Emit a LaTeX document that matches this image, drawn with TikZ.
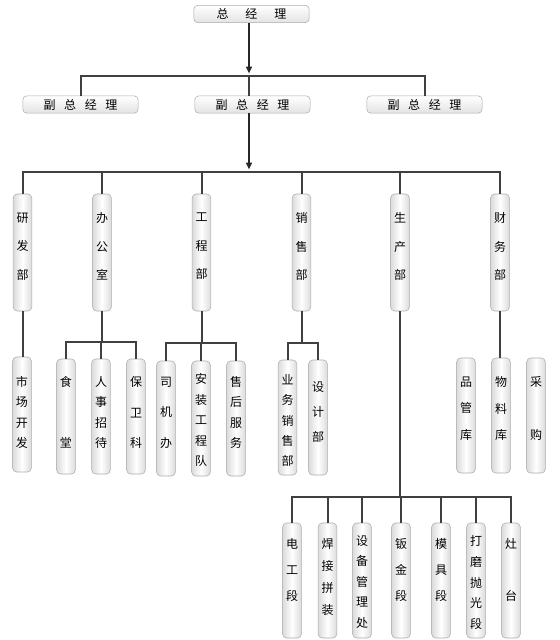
\documentclass[tikz,border=0pt]{standalone}
\usepackage{fontspec}
\newfontfamily\cjk{Noto Sans CJK SC}
\usetikzlibrary{arrows.meta}
\begin{document}
\begin{tikzpicture}[x=0.75pt,y=-0.75pt,
  hbox/.style={draw=gray!65, rounded corners=3pt, top color=white, bottom color=gray!22,
    minimum width=86.5pt, minimum height=13pt, inner sep=0pt, font=\cjk\fontsize{9pt}{10pt}\selectfont},
  vbox/.style={draw=gray!65, rounded corners=3pt, left color=gray!28, right color=gray!28, middle color=white,
    minimum width=14pt, minimum height=#1, inner sep=0pt},
  vbox/.default=86.25pt,
  vl/.style={font=\cjk\fontsize{9pt}{#1}\selectfont, align=center, inner sep=0pt},
  bar/.style={draw=black!75, line width=1.5pt},
  arr/.style={draw=black!85, line width=0.8pt, -{Triangle[length=5pt,width=4.5pt]}, shorten >=2pt},
]
\fill[white] (0,0) rectangle (560,640);
\useasboundingbox (0,0) rectangle (560,640);

% top level
\node[hbox] (zjl) at (251.5,14) {总\hspace{12.75pt}经\hspace{12.75pt}理};
\node[hbox] (f1) at (80.5,104.5) {副\hspace{6.4pt}总\hspace{6.4pt}经\hspace{6.4pt}理};
\node[hbox] (f2) at (252.5,104.5) {副\hspace{6.4pt}总\hspace{6.4pt}经\hspace{6.4pt}理};
\node[hbox] (f3) at (424.5,104.5) {副\hspace{6.4pt}总\hspace{6.4pt}经\hspace{6.4pt}理};

\coordinate (j1) at (249,76);
\draw[arr] (zjl.south -| j1) -- (j1);
\draw[bar] (f1.north) -- (f1.north |- j1) -- (f3.north |- j1) -- (f3.north);
\draw[bar] (j1) -- (f2.north -| j1);

% departments
\foreach \n/\x in {d1/22.5,d2/102,d3/201.5,d4/301.5,d5/400,d6/500}
  \node[vbox=87.75pt] (\n) at (\x,252.5) {};
\node[vl=21.4pt] (d1t) at (22.5,246.5) {研\\发\\部};
\node[vl=21.4pt] (d2t) at (102,246.5) {办\\公\\室};
\node[vl=21.4pt] (d3t) at (201.5,246.5) {工\\程\\部};
\node[vl=21.4pt] (d4t) at (301.5,246.5) {销\\售\\部};
\node[vl=21.4pt] (d5t) at (400,246.5) {生\\产\\部};
\node[vl=21.4pt] (d6t) at (500,246.5) {财\\务\\部};

\coordinate (j2) at (249,172);
\draw[arr] (f2.south -| j2) -- (j2);
\draw[bar] (d1.north) -- (d1.north |- j2) -- (d6.north |- j2) -- (d6.north);
\foreach \n in {d2,d3,d4,d5}
  \draw[bar] (\n.north |- j2) -- (\n.north);

% row 3 boxes
\node[vbox] (s1) at (22,414.5) {};
\node[vbox] (b1) at (66,416.5) {};
\node[vbox] (b2) at (101,416.5) {};
\node[vbox] (b3) at (136,416.5) {};
\node[vbox] (c1) at (166,418.5) {};
\node[vbox] (c2) at (201,418.5) {};
\node[vbox] (c3) at (236,418.5) {};
\node[vbox] (e1) at (287.5,417.5) {};
\node[vbox] (e2) at (318,417.5) {};
\node[vbox] (g1) at (466,415.5) {};
\node[vbox] (g2) at (501,415.5) {};
\node[vbox] (g3) at (536,415.5) {};

\node[vl=15.2pt] (s1t) at (22,412.5) {市\\场\\开\\发};
\node[vl=45.75pt] (b1t) at (66,412.5) {食\\堂};
\node[vl=15.2pt] (b2t) at (101,412.5) {人\\事\\招\\待};
\node[vl=22.9pt] (b3t) at (136,412.5) {保\\卫\\科};
\node[vl=22.9pt] (c1t) at (166,412.5) {司\\机\\办};
\node[vl=15.4pt] (c2t) at (201,420) {安\\装\\工\\程\\队};
\node[vl=15.2pt] (c3t) at (236,412.5) {售\\后\\服\\务};
\node[vl=15.2pt] (e1t) at (287.5,420.5) {业\\务\\销\\售\\部};
\node[vl=18.75pt] (e2t) at (318,412) {设\\计\\部};
\node[vl=19.9pt] (g1t) at (466,408.5) {品\\管\\库};
\node[vl=19.9pt] (g2t) at (501,408.5) {物\\料\\库};
\node[vl=39.75pt] (g3t) at (536,408.5) {采\\购};

\draw[bar] (d1.south) -- (d1.south |- s1.north);

\coordinate (j3) at (102,342);
\draw[bar] (d2.south) -- (d2.south |- j3);
\draw[bar] (b1.north) -- (b1.north |- j3) -- (b3.north |- j3) -- (b3.north);
\draw[bar] (b2.north |- j3) -- (b2.north);

\coordinate (j4) at (201,343);
\draw[bar] (d3.south) -- (d3.south |- j4);
\draw[bar] (c1.north) -- (c1.north |- j4) -- (c3.north |- j4) -- (c3.north);
\draw[bar] (c2.north |- j4) -- (c2.north);

\coordinate (j5) at (301,343);
\draw[bar] (d4.south) -- (d4.south |- j5);
\draw[bar] (e1.north) -- (e1.north |- j5) -- (e2.north |- j5) -- (e2.north);

\draw[bar] (d6.south) -- (d6.south |- g2.north);

% production row
\foreach \n/\x in {h1/292,h2/327.5,h3/362,h4/401,h5/441,h6/476,h7/511}
  \node[vbox] (\n) at (\x,580.5) {};
\node[vl=19.5pt] (h1t) at (292,570) {电\\工\\段};
\node[vl=16.5pt] (h2t) at (327.5,577) {焊\\接\\拼\\装};
\node[vl=15.4pt] (h3t) at (362,582) {设\\备\\管\\理\\处};
\node[vl=19.5pt] (h4t) at (401,570) {钣\\金\\段};
\node[vl=19.5pt] (h5t) at (441,570) {模\\具\\段};
\node[vl=15.4pt] (h6t) at (476,582.5) {打\\磨\\抛\\光\\段};
\node[vl=39pt] (h7t) at (511,570) {灶\\台};

\coordinate (j6) at (400,497);
\draw[bar] (d5.south) -- (d5.south |- j6);
\draw[bar] (h1.north) -- (h1.north |- j6) -- (h7.north |- j6) -- (h7.north);
\foreach \n in {h2,h3,h4,h5,h6}
  \draw[bar] (\n.north |- j6) -- (\n.north);
\end{tikzpicture}
\end{document}
